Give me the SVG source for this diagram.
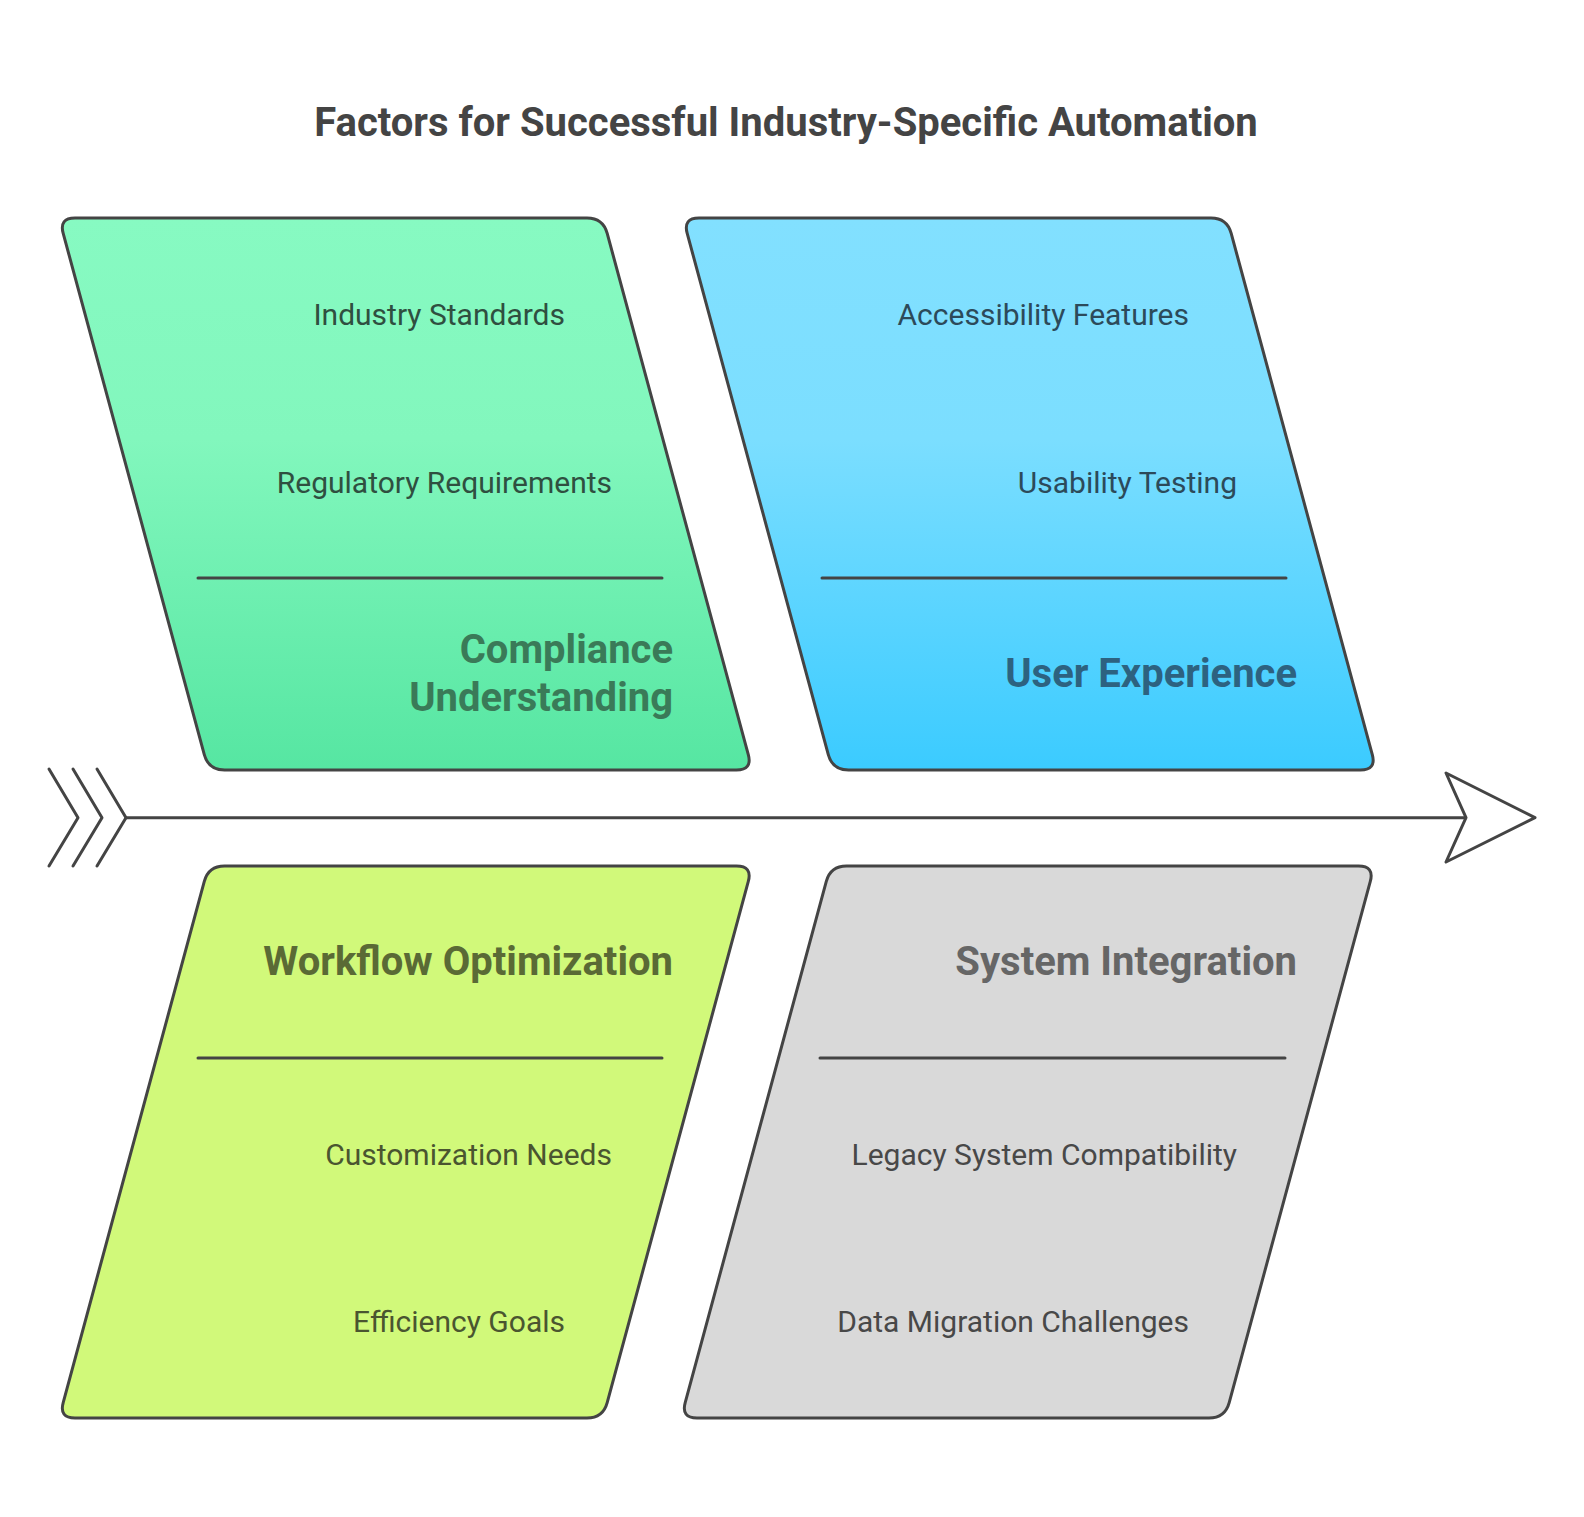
<svg xmlns="http://www.w3.org/2000/svg" width="1584" height="1517" viewBox="0 0 1584 1517">
<defs>
<linearGradient id="gGreen" x1="0" y1="0" x2="0" y2="1">
<stop offset="0" stop-color="#87fac2"/>
<stop offset="0.4" stop-color="#82f7bd"/>
<stop offset="1" stop-color="#56e6a2"/>
</linearGradient>
<linearGradient id="gBlue" x1="0" y1="0" x2="0" y2="1">
<stop offset="0" stop-color="#82e0ff"/>
<stop offset="0.4" stop-color="#7bdeff"/>
<stop offset="1" stop-color="#3bcbff"/>
</linearGradient>
<style>
.shape{stroke:#444444;stroke-width:3;stroke-linejoin:round}
.div{stroke:#444444;stroke-width:3;stroke-linecap:round}
.item{font-family:Roboto,"Liberation Sans",sans-serif;font-size:30px;text-anchor:end}
.head{font-family:Roboto,"Liberation Sans",sans-serif;font-size:40px;font-weight:700;text-anchor:end}
.title{font-family:Roboto,"Liberation Sans",sans-serif;font-size:40px;font-weight:700;text-anchor:middle;fill:#444444}
.line{stroke:#444444;stroke-width:3;fill:none;stroke-linecap:round;stroke-linejoin:round}
</style>
</defs>
<rect width="1584" height="1517" fill="#ffffff"/>
<text id="title" class="title" x="786" y="136">Factors for Successful Industry-Specific Automation</text>

<g id="connectors">
<line class="line" x1="126" y1="817.7" x2="1466" y2="817.7"/>
<polyline class="line" points="49,769 78,817.7 49,866"/>
<polyline class="line" points="73,769 102,817.7 73,866"/>
<polyline class="line" points="97,769 126,817.7 97,866"/>
<polygon class="line" style="fill:#ffffff" points="1446,773 1535,817.7 1446,862 1466,817.7"/>
</g>

<g id="compliance">
<path class="shape" fill="url(#gGreen)" d="M75,218 L587,218 Q603,218 607.2,233.4 L748.3,754.6 Q752.5,770 736.5,770 L224.5,770 Q208.5,770 204.3,754.6 L63.2,233.4 Q59,218 75,218 Z"/>
<line class="div" x1="198" y1="578" x2="662" y2="578"/>
<text class="item" x="565" y="324.5" fill="#2f4f40">Industry Standards</text>
<text class="item" x="612" y="492.5" fill="#2f4f40">Regulatory Requirements</text>
<text class="head" x="673" y="663" fill="#3a7a58">Compliance</text>
<text class="head" x="673" y="711" fill="#3a7a58">Understanding</text>
</g>

<g id="user-experience">
<path class="shape" fill="url(#gBlue)" d="M699,218 L1211,218 Q1227,218 1231.2,233.4 L1372.3,754.6 Q1376.5,770 1360.5,770 L848.5,770 Q832.5,770 828.3,754.6 L687.2,233.4 Q683,218 699,218 Z"/>
<line class="div" x1="822" y1="578" x2="1286" y2="578"/>
<text class="item" x="1189" y="324.5" fill="#2c4a5a">Accessibility Features</text>
<text class="item" x="1237" y="492.5" fill="#2c4a5a">Usability Testing</text>
<text class="head" x="1297" y="687" fill="#2d6280">User Experience</text>
</g>

<g id="workflow">
<path class="shape" fill="#d1f97a" d="M224.5,866 L736.5,866 Q752.5,866 748.3,881.4 L607.2,1402.6 Q603,1418 587,1418 L75,1418 Q59,1418 63.2,1402.6 L204.3,881.4 Q208.5,866 224.5,866 Z"/>
<line class="div" x1="198" y1="1058" x2="662" y2="1058"/>
<text class="head" x="673" y="975" fill="#5a6a35">Workflow Optimization</text>
<text class="item" x="612" y="1164.5" fill="#4a5530">Customization Needs</text>
<text class="item" x="565" y="1331.5" fill="#4a5530">Efficiency Goals</text>
</g>

<g id="system-integration">
<path class="shape" fill="#d9d9d9" d="M846.5,866 L1358.5,866 Q1374.5,866 1370.3,881.4 L1229.2,1402.6 Q1225,1418 1209,1418 L697,1418 Q681,1418 685.2,1402.6 L826.3,881.4 Q830.5,866 846.5,866 Z"/>
<line class="div" x1="820" y1="1058" x2="1285" y2="1058"/>
<text class="head" x="1297" y="975" fill="#666666">System Integration</text>
<text class="item" x="1237" y="1164.5" fill="#484848">Legacy System Compatibility</text>
<text class="item" x="1189" y="1331.5" fill="#484848">Data Migration Challenges</text>
</g>
</svg>
